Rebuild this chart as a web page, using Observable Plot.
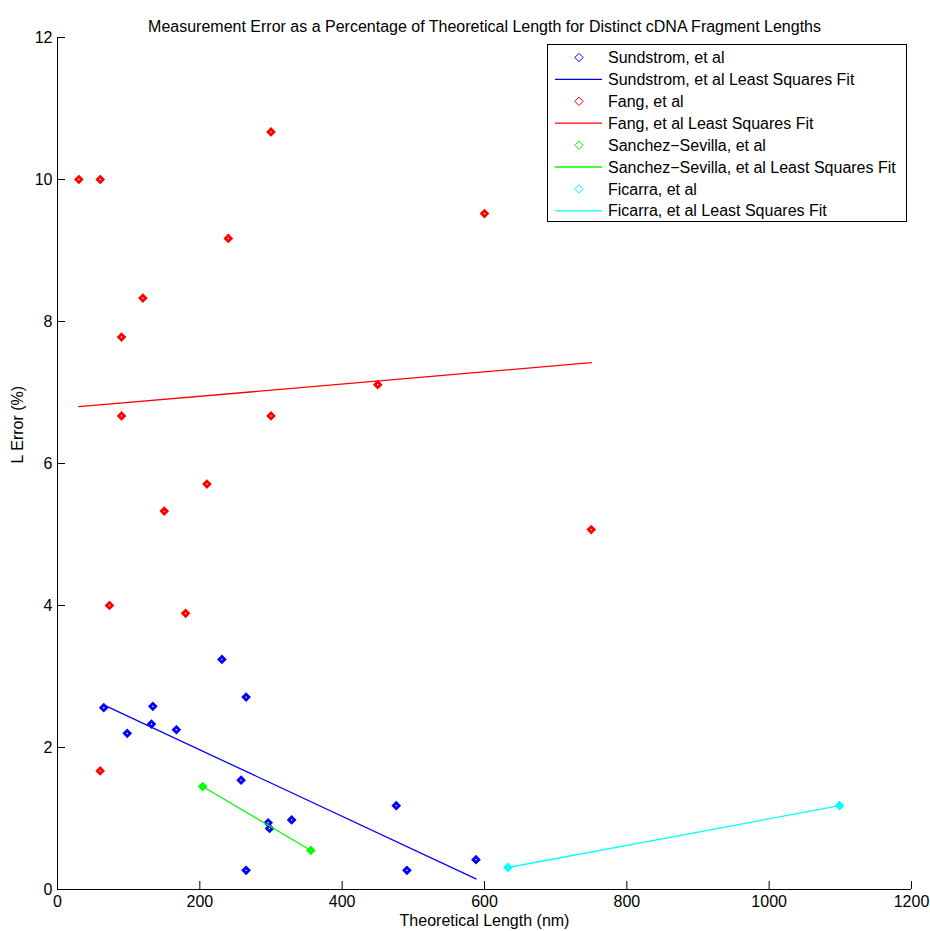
<!DOCTYPE html>
<html>
<head>
<meta charset="utf-8">
<script src="https://cdn.jsdelivr.net/npm/d3@7"></script>
<script src="https://cdn.jsdelivr.net/npm/@observablehq/plot@0.6"></script>
<style>
  html, body { margin: 0; padding: 0; background: #fff; }
  #chart { position: relative; width: 930px; height: 931px; overflow: hidden; }
  svg { font-family: "Liberation Sans", Arial, sans-serif; }
</style>
</head>
<body>
<div id="chart"></div>
<script>
// ---- data ----
const title = "Measurement Error as a Percentage of Theoretical Length for Distinct cDNA Fragment Lengths";
const xLabel = "Theoretical Length (nm)";
const yLabel = "L Error (%)";
const xTicks = [0, 200, 400, 600, 800, 1000, 1200];
const yTicks = [0, 2, 4, 6, 8, 10, 12];

const sundstromX = [65, 98, 132, 134, 167, 231, 258, 265, 265, 296, 298, 329, 476, 491, 588];
const sundstromY = [2.56, 2.20, 2.33, 2.58, 2.25, 3.24, 1.54, 2.71, 0.27, 0.94, 0.86, 0.98, 1.18, 0.27, 0.42];
const sundstromFitX = [67, 588];
const sundstromFitY = [2.59, 0.15];

const fangX = [30, 60, 60, 73, 90, 90, 120, 150, 180, 210, 240, 300, 300, 450, 600, 750];
const fangY = [10.0, 10.0, 1.67, 4.0, 7.78, 6.67, 8.33, 5.33, 3.89, 5.71, 9.17, 10.67, 6.67, 7.11, 9.52, 5.07];
const fangFitX = [30, 750];
const fangFitY = [6.80, 7.42];

const sanchezX = [204, 356];
const sanchezY = [1.45, 0.55];
const sanchezFitX = [204, 356];
const sanchezFitY = [1.45, 0.55];

const ficarraX = [633, 1099];
const ficarraY = [0.31, 1.18];
const ficarraFitX = [633, 1099];
const ficarraFitY = [0.31, 1.18];

const seriesNames = ["Sundstrom, et al", "Fang, et al", "Sanchez\u2212Sevilla, et al", "Ficarra, et al"];
const seriesColors = ["#0000ff", "#ff0000", "#00ff00", "#00ffff"];

// ---- build tables ----
const zip = (xs, ys) => xs.map((x, i) => ({x, y: ys[i]}));
const pts = [zip(sundstromX, sundstromY), zip(fangX, fangY), zip(sanchezX, sanchezY), zip(ficarraX, ficarraY)];
const fits = [zip(sundstromFitX, sundstromFitY), zip(fangFitX, fangFitY), zip(sanchezFitX, sanchezFitY), zip(ficarraFitX, ficarraFitY)];

const W = 930, H = 931;
const mL = 57, mR = 19, mT = 37, mB = 42;
const frameW = W - mL - mR, frameH = H - mT - mB;
const FS = 16;

const marks = [];
// axis lines
marks.push(Plot.ruleY([0], {stroke: "#000", strokeWidth: 1}));
marks.push(Plot.ruleX([0], {stroke: "#000", strokeWidth: 1}));
// inward ticks
marks.push(Plot.tickX(xTicks, {x: d => d, insetTop: frameH - 8, stroke: "#000"}));
marks.push(Plot.tickY(yTicks, {y: d => d, insetRight: frameW - 8, stroke: "#000"}));
// tick labels
marks.push(Plot.axisX({ticks: xTicks, tickFormat: d3.format("d"), tickSize: 0, tickPadding: 6, fontSize: FS, label: null, fill: "#000"}));
marks.push(Plot.axisY({ticks: yTicks, tickFormat: d3.format("d"), tickSize: 0, tickPadding: 5, fontSize: FS, label: null, fill: "#000"}));

// series
pts.forEach((p, i) => {
  marks.push(Plot.line(fits[i], {x: "x", y: "y", stroke: seriesColors[i], strokeWidth: 1.3}));
  marks.push(Plot.dot(p, {x: "x", y: "y", symbol: "diamond2", r: 2.6, stroke: seriesColors[i], strokeWidth: 2.8, fill: "none"}));
});

// texts
marks.push(Plot.text([title], {frameAnchor: "top", dy: -17, fontSize: FS, fill: "#000", text: d => d}));
marks.push(Plot.text([xLabel], {frameAnchor: "bottom", dy: 36, fontSize: FS, fill: "#000", text: d => d}));
marks.push(Plot.text([yLabel], {frameAnchor: "left", dx: -40, rotate: -90, fontSize: FS, fill: "#000", text: d => d}));

const chart = Plot.plot({
  width: W, height: H,
  marginLeft: mL, marginRight: mR, marginTop: mT, marginBottom: mB,
  x: {domain: [0, 1200]},
  y: {domain: [0, 12]},
  style: {fontFamily: "'Liberation Sans', Arial, sans-serif", background: "#fff", overflow: "visible"},
  marks
});
document.getElementById("chart").appendChild(chart);

// ---- legend (drawn inside the SVG) ----
const svg = d3.select(chart);
const lg = svg.append("g").attr("font-family", "'Liberation Sans', Arial, sans-serif")
  .attr("font-size", FS).attr("text-anchor", "start");
const bx = 547, by = 44, bw = 359, bh = 177;
lg.append("rect").attr("x", bx + 0.5).attr("y", by + 0.5).attr("width", bw).attr("height", bh)
  .attr("fill", "#fff").attr("stroke", "#000").attr("stroke-width", 1);
const labels = [];
seriesNames.forEach((n, i) => {
  labels.push({text: n, type: "marker", color: seriesColors[i]});
  labels.push({text: n + " Least Squares Fit", type: "line", color: seriesColors[i]});
});
const rowH = 21.9, row0 = by + 13.5;
labels.forEach((d, i) => {
  const cy = row0 + i * rowH;
  if (d.type === "marker") {
    const s = 4.2;
    lg.append("path").attr("d", `M${579},${cy - s}L${579 + s},${cy}L${579},${cy + s}L${579 - s},${cy}Z`)
      .attr("fill", "none").attr("stroke", d.color).attr("stroke-width", 1);
  } else {
    lg.append("line").attr("x1", 555).attr("x2", 602).attr("y1", cy).attr("y2", cy)
      .attr("stroke", d.color).attr("stroke-width", 1.3);
  }
  lg.append("text").attr("x", 608).attr("y", cy).attr("dy", "0.35em").attr("text-anchor", "start")
    .attr("fill", "#000").text(d.text);
});
</script>
</body>
</html>
